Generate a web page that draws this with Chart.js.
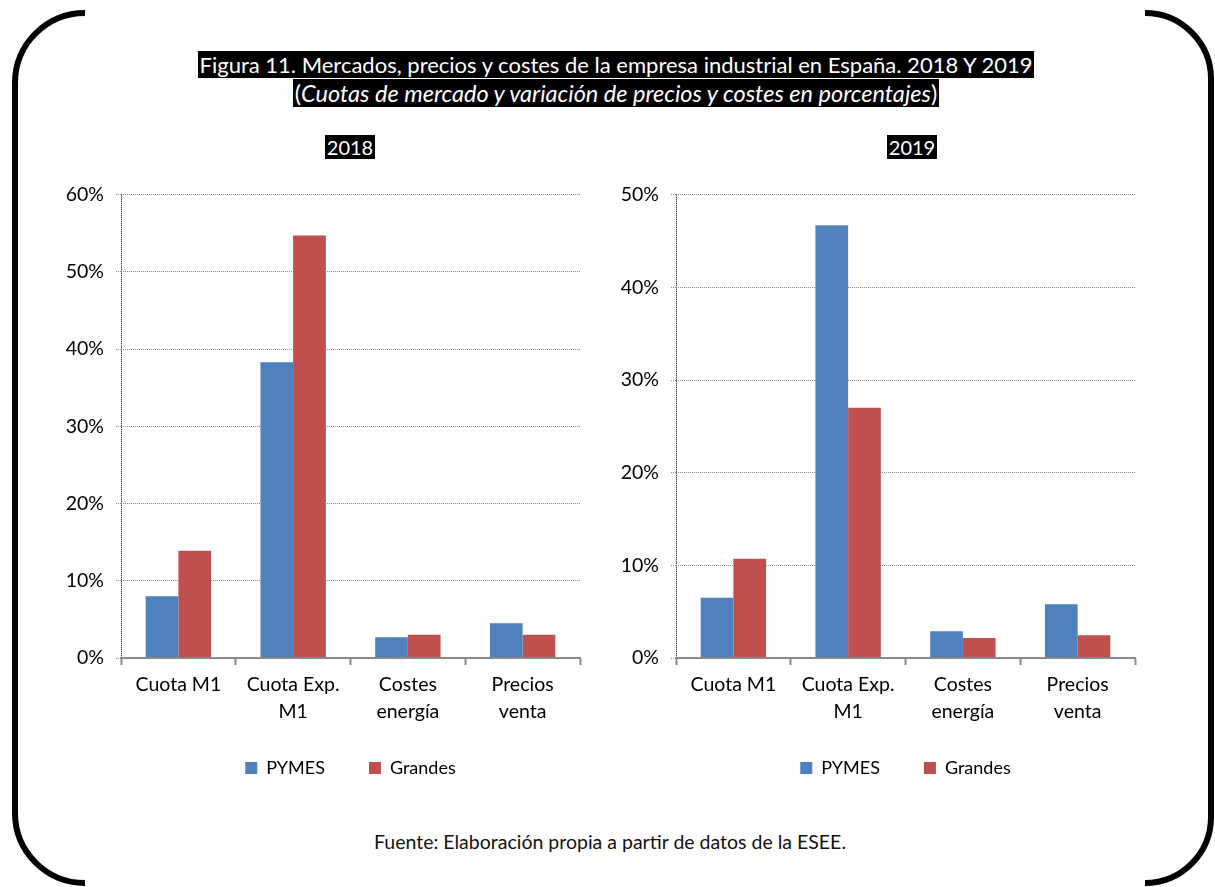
<!DOCTYPE html>
<html lang="es">
<head>
<meta charset="utf-8">
<title>Figura 11</title>
<script src="https://cdn.jsdelivr.net/npm/chart.js@4.4.1/dist/chart.umd.min.js"></script>
<style>
  html, body { margin: 0; padding: 0; background: #fff; }
  body { width: 1215px; height: 887px; position: relative; overflow: hidden; font-family: Lato, "Open Sans", sans-serif; }
  #frame { position: absolute; left: 0; top: 0; }
  .heading { position: absolute; left: 16px; width: 1200px; top: 52px; text-align: center; line-height: 26px; }
  .heading .l1 { font-size: 22px; }
  .heading .l2 { font-size: 23.5px; }
  .heading span, .sub span { background: #000; color: #fff; padding: 0 2px; }
  .sub { position: absolute; top: 134px; width: 200px; text-align: center; font-size: 20px; line-height: 26px; }
  canvas { position: absolute; }
  #c2018 { left: 50px; top: 171px; }
  #c2019 { left: 605px; top: 171px; }
  .source { position: absolute; left: 0; width: 1220px; top: 830px; text-align: center; font-size: 19.5px; color: #111; }
</style>
</head>
<body>
<svg id="frame" width="1215" height="887">
  <path d="M 85 13 A 70 70 0 0 0 15 83 L 15 813 A 70 70 0 0 0 85 883" fill="none" stroke="#000" stroke-width="6"/>
  <path d="M 1145 13 A 66 66 0 0 1 1211 79 L 1211 817 A 66 66 0 0 1 1145 883" fill="none" stroke="#000" stroke-width="6"/>
</svg>

<div class="heading">
  <span class="l1">Figura 11. Mercados, precios y costes de la empresa industrial en España. 2018 Y 2019</span><br>
  <span class="l2">(<i>Cuotas de mercado y variación de precios y costes en porcentajes</i>)</span>
</div>
<div class="sub" style="left:250px"><span>2018</span></div>
<div class="sub" style="left:812px"><span>2019</span></div>

<canvas id="c2018" width="560" height="629"></canvas>
<canvas id="c2019" width="560" height="629"></canvas>

<div class="source">Fuente: Elaboración propia a partir de datos de la ESEE.</div>

<script>
// categories and series
const categories = ['Cuota M1', ['Cuota Exp.', 'M1'], ['Costes', 'energía'], ['Precios', 'venta']];
const seriesNames = ['PYMES', 'Grandes'];
const seriesColors = ['#4F81BD', '#C0504D'];

// 2018 (%)
const pymes2018 = [8.0, 38.3, 2.7, 4.5];
const grandes2018 = [13.9, 54.7, 3.0, 3.0];
const yMax2018 = 60;

// 2019 (%)
const pymes2019 = [6.5, 46.7, 2.9, 5.8];
const grandes2019 = [10.7, 27.0, 2.15, 2.45];
const yMax2019 = 50;

const yStep = 10;

const FONT = { family: 'Lato, "Open Sans", sans-serif', size: 19.5 };

// centre the legend under the plot area and pull it up a little
const legendUnderPlot = {
  id: 'legendUnderPlot',
  afterLayout(chart) {
    const lg = chart.legend;
    const area = chart.chartArea;
    if (!lg) return;
    lg.left = area.left;
    lg.right = area.right;
    lg.width = area.right - area.left;
    lg.top -= 13;
    lg.bottom -= 13;
  }
};

function makeChart(id, pymes, grandes, yMax) {
  const ctx = document.getElementById(id).getContext('2d');
  return new Chart(ctx, {
    type: 'bar',
    data: {
      labels: categories,
      datasets: [
        { label: seriesNames[0], data: pymes, backgroundColor: seriesColors[0], borderWidth: 0 },
        { label: seriesNames[1], data: grandes, backgroundColor: seriesColors[1], borderWidth: 0 }
      ]
    },
    options: {
      responsive: false,
      animation: false,
      devicePixelRatio: 1,
      categoryPercentage: 0.57,
      barPercentage: 1.0,
      layout: { padding: { top: 0, right: 30, bottom: 0, left: 0 } },
      plugins: {
        legend: {
          position: 'bottom',
          labels: {
            boxWidth: 12,
            boxHeight: 12,
            padding: 44,
            color: '#000',
            font: { family: FONT.family, size: 18 }
          }
        },
        tooltip: { enabled: false }
      },
      scales: {
        x: {
          afterFit: (s) => { s.height = 70; },
          grid: {
            offset: true,
            // only the left boundary shows, as the dotted vertical axis
            color: (c) => c.index === 0 ? '#000' : 'rgba(0,0,0,0)',
            lineWidth: 1,
            drawTicks: true,
            tickLength: 7,
            tickColor: '#8a8a8a',
            tickWidth: 2
          },
          border: { display: true, color: '#8a8a8a', width: 2, dash: [1, 1], z: 1 },
          ticks: {
            color: '#000',
            font: { ...FONT, lineHeight: 1.35 },
            padding: 7,
            maxRotation: 0,
            autoSkip: false
          }
        },
        y: {
          min: 0,
          max: yMax,
          afterFit: (s) => { s.width = 71; },
          grid: {
            color: '#8c8c8c',
            lineWidth: 1,
            tickLength: 5,
            tickColor: '#8c8c8c',
            tickBorderDash: [1, 1]
          },
          border: { display: false, dash: [1, 1] },
          ticks: {
            stepSize: yStep,
            color: '#000',
            font: FONT,
            padding: 12,
            callback: (v) => v + '%'
          }
        }
      }
    },
    plugins: [legendUnderPlot]
  });
}

makeChart('c2018', pymes2018, grandes2018, yMax2018);
makeChart('c2019', pymes2019, grandes2019, yMax2019);
</script>
</body>
</html>
